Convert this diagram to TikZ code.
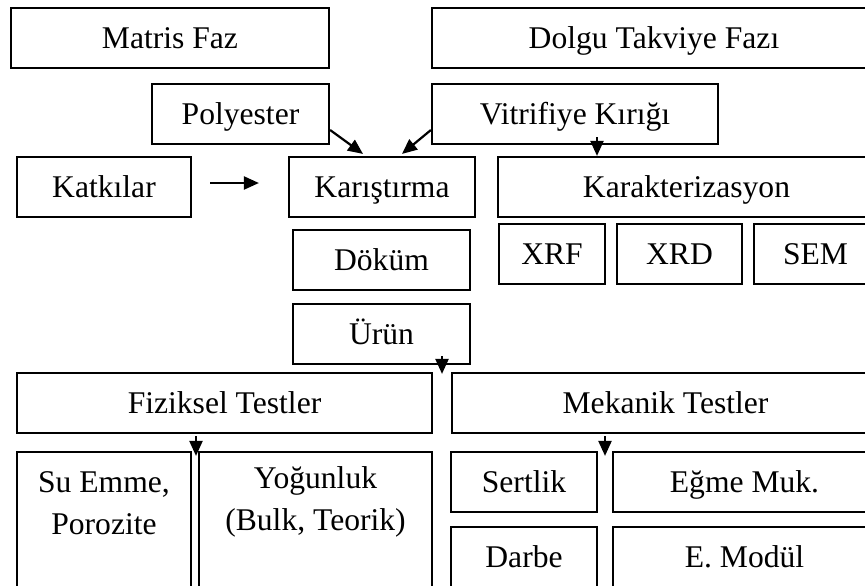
\documentclass[tikz,border=0pt]{standalone}
\usepackage{fontspec}
\setmainfont{Liberation Serif}
\usetikzlibrary{arrows.meta}
\tikzset{
  box/.style={draw, rectangle, line width=1.1pt, inner sep=0pt, minimum height=30pt, text height=11pt, text depth=0.5pt},
  tallbox/.style={draw, rectangle, line width=1.1pt, inner sep=0pt, minimum height=74pt},
  arr/.style={->, line width=1.1pt},
}

\begin{document}
\begin{tikzpicture}[x=0.5pt,y=-0.5pt,>={Triangle[length=7.5pt,width=6.5pt]},font=\fontsize{15.8}{21}\selectfont]
\clip (0,0) rectangle (865,585);
% fazlar
\node[box,minimum width=159pt] (matris) at (170,38) {Matris Faz};
\node[box,minimum width=222pt] (dolgu) at (654,38) {Dolgu Takviye Fazı};
\node[box,minimum width=88.5pt] (polyester) at (240.5,114) {Polyester};
\node[box,minimum width=143pt] (vitrifiye) at (575,114) {Vitrifiye Kırığı};
% uretim
\node[box,minimum width=87pt] (katkilar) at (104,187) {Katkılar};
\node[box,minimum width=93pt] (karistirma) at (382,187) {Karıştırma};
\node[box,minimum width=88.5pt] (dokum) at (381.5,260) {Döküm};
\node[box,minimum width=88.5pt] (urun) at (381.5,334) {Ürün};
% karakterizasyon
\node[box,minimum width=188.5pt] (karakter) at (686.5,187) {Karakterizasyon};
\node[box,minimum width=53pt] (xrf) at (552,254) {XRF};
\node[box,minimum width=62.5pt] (xrd) at (679.5,254) {XRD};
\node[box,minimum width=61.5pt] (sem) at (815.5,254) {SEM};
% testler
\node[box,minimum width=207.5pt] (fiziksel) at (224.5,403) {Fiziksel Testler};
\node[box,minimum width=213.5pt] (mekanik) at (665.5,403) {Mekanik Testler};
\node[tallbox,minimum width=87pt,label={[align=center,anchor=north,inner sep=0pt,yshift=-10.3pt]north:{Su Emme,\\Porozite}}] (suemme) at (104,526) {};
\node[tallbox,minimum width=116.5pt,label={[align=center,anchor=north,inner sep=0pt,yshift=-7.7pt]north:{Yoğunluk\\(Bulk, Teorik)}}] (yogunluk) at (315.5,526) {};
\node[box,minimum width=73pt] (sertlik) at (524,482) {Sertlik};
\node[box,minimum width=131.5pt] (egme) at (744.5,482) {Eğme Muk.};
\node[box,minimum width=73pt] (darbe) at (524,557) {Darbe};
\node[box,minimum width=131.5pt] (emodul) at (744.5,557) {E. Modül};
% oklar
\draw[arr] ([xshift=9pt,yshift=2pt]katkilar.east) -- ([xshift=-14.5pt,yshift=2pt]karistirma.west);
\draw[arr] ([yshift=-8pt]polyester.east) -- ([xshift=-9.5pt,yshift=1pt]karistirma.north);
\draw[arr] ([yshift=-8pt]vitrifiye.west) -- ([xshift=10pt,yshift=1pt]karistirma.north);
\draw[arr] ([xshift=11pt,yshift=4pt]vitrifiye.south) -- ([xshift=11pt]vitrifiye.south |- karakter.north);
\draw[arr] ([xshift=30.25pt,yshift=4.5pt]urun.south) -- ([xshift=30.25pt,yshift=-1pt]urun.south |- fiziksel.north);
\draw[arr] ([xshift=-14.25pt,yshift=-1pt]fiziksel.south) -- ([xshift=-14.25pt,yshift=-2.5pt]fiziksel.south |- suemme.north);
\draw[arr] ([xshift=-30.25pt,yshift=-1pt]mekanik.south) -- ([xshift=-30.25pt,yshift=-2.5pt]mekanik.south |- sertlik.north);
\end{tikzpicture}
\end{document}
